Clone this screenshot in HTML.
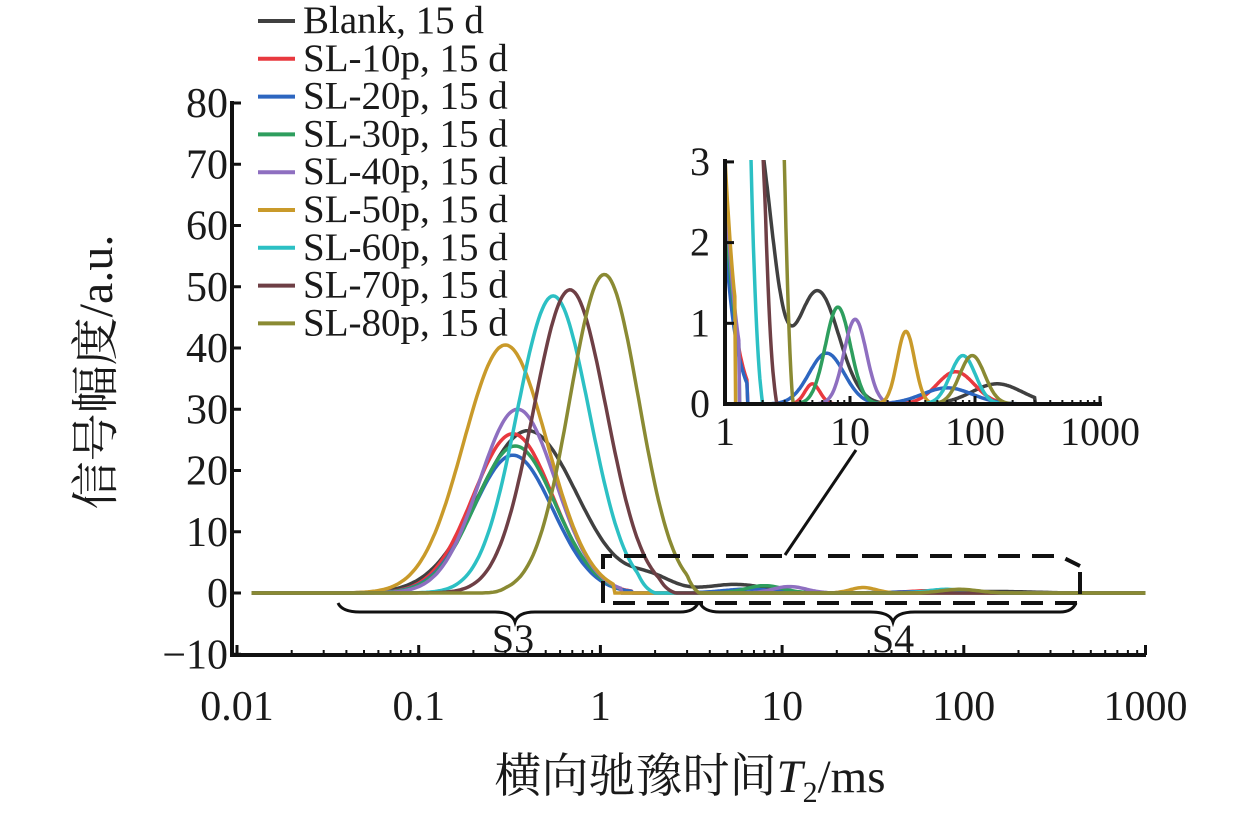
<!DOCTYPE html>
<html><head><meta charset="utf-8"><style>
html,body{margin:0;padding:0;background:#fff}
svg{display:block}
text{font-family:"Liberation Serif","Noto Serif CJK SC",serif;fill:#1a1a1a}
</style></head><body>
<svg id="s" width="1259" height="817" viewBox="0 0 1259 817" xmlns="http://www.w3.org/2000/svg">
<defs><clipPath id="ic"><rect x="724" y="160" width="400" height="250"/></clipPath></defs>
<g id="main"></g>
<g id="ins" clip-path="url(#ic)"></g>
<g stroke="#111" stroke-width="4" fill="none">
<line x1="232" y1="101" x2="232" y2="657"/>
<line x1="230" y1="655" x2="1146" y2="655"/>
<line x1="725" y1="159" x2="725" y2="406"/>
<line x1="723" y1="404" x2="1102" y2="404"/>
</g>
<g stroke="#111" stroke-width="4" fill="none" stroke-dasharray="22,12">
<path d="M603,603 V556 H1060 L1080,566"/>
<path d="M1080,572 V603 H603"/>
</g>
<line x1="785" y1="555" x2="856" y2="450" stroke="#111" stroke-width="3"/>
<g stroke="#111" stroke-width="3" fill="none">
<path d="M338,603 Q342,612 360,612 H495 Q512,612 515,622 Q518,612 535,612 H680 Q694,612 698,603"/>
<path d="M700,603 Q704,612 720,612 H870 Q890,612 893,622 Q896,612 915,612 H1060 Q1072,612 1076,603"/>
</g>
<text x="513" y="652" font-size="40" text-anchor="middle">S3</text>
<text x="893" y="652" font-size="40" text-anchor="middle">S4</text>
<g id="ax"></g>
<g id="leg"></g>
<text x="690" y="792" font-size="47" text-anchor="middle">横向驰豫时间<tspan font-style="italic">T</tspan><tspan font-size="30" dy="10">2</tspan><tspan dy="-10">/ms</tspan></text>
<text transform="translate(112,372) rotate(-90)" font-size="48" text-anchor="middle">信号幅度/a.u.</text>
</svg>
<script>
var NS="http://www.w3.org/2000/svg";
function el(p,n,a,t){var e=document.createElementNS(NS,n);for(var k in a)e.setAttribute(k,a[k]);if(t!=null)e.textContent=t;document.getElementById(p).appendChild(e);return e;}
var L=Math.log10;
function g(t,p,A,s){var d=L(t)-L(p);return A*Math.exp(-d*d/(2*s*s));}
var S=[
["Blank, 15 d","#404040",function(t){return g(t,0.4,26.5,0.27)+g(t,1.9,2.2,0.12)+g(t,5.5,1.4,0.17)+g(t,150,0.25,0.2);}],
["SL-10p, 15 d","#e8393f",function(t){return t<1.5?g(t,0.33,26,0.22):(g(t,5,0.25,0.06)+g(t,70,0.4,0.15));}],
["SL-20p, 15 d","#2d66c0",function(t){return t<1.5?g(t,0.33,22.5,0.22):(g(t,6.5,0.63,0.14)+g(t,60,0.2,0.2));}],
["SL-30p, 15 d","#2e9e5e",function(t){return t<1.3?g(t,0.34,24,0.22):g(t,8,1.2,0.1);}],
["SL-40p, 15 d","#8e6fc0",function(t){return t<1.3?g(t,0.35,30,0.21):g(t,11,1.05,0.09);}],
["SL-50p, 15 d","#c99a2a",function(t){return t<1.2?g(t,0.3,40.5,0.23):g(t,28,0.9,0.07);}],
["SL-60p, 15 d","#2cc0c4",function(t){return t<2?g(t,0.55,48.5,0.2)*(t>1.6?Math.max(0,(2-t)/0.4):1):g(t,80,0.6,0.1);}],
["SL-70p, 15 d","#6e3f45",function(t){return t<2.6?g(t,0.68,49.5,0.2)*(t>2.1?Math.max(0,(2.6-t)/0.5):1):0;}],
["SL-80p, 15 d","#8a8a33",function(t){return (t<0.22?0:t<3.5?g(t,1.05,52,0.19)*(t>3?Math.max(0,(3.5-t)/0.5):1)*(t<0.3?(t-0.22)/0.08:1):0)+g(t,95,0.6,0.1);}]
];
function MX(t){return 600.4+181.7*L(t);}
function MY(v){return 593-6.125*v;}
function IX(t){return 725+125*L(t);}
function IY(v){return 404-80.7*v;}
S.forEach(function(s){
 var d="",di="";
 for(var i=0;i<=500;i++){var lt=-2+i*5/500,t=Math.pow(10,lt);if(t<0.012)continue;var v=s[2](t);
  d+=(d?"L":"M")+MX(t).toFixed(1)+","+MY(v).toFixed(1);}
 el("main","path",{d:d,stroke:s[1],"stroke-width":3.5,fill:"none"});
 for(var i=0;i<=400;i++){var lt=i*2.6/400,t=Math.pow(10,lt);var v=Math.min(4,s[2](t));
  if(s[0].indexOf("Blank")==0&&t>300)v=0;
  di+=(di?"L":"M")+IX(t).toFixed(1)+","+IY(v).toFixed(1);}
 el("ins","path",{d:di,stroke:s[1],"stroke-width":3.5,fill:"none"});
});
for(var v=-10;v<=80;v+=10){el("ax","line",{x1:232,x2:241,y1:MY(v),y2:MY(v),stroke:"#111","stroke-width":3});
 el("ax","text",{x:228,y:MY(v)+14,"font-size":42,"text-anchor":"end"},v<0?"\u221210":String(v));}
var labs=["0.01","0.1","1","10","100","1000"];
for(var e=-2;e<=3;e++){var x=MX(Math.pow(10,e));el("ax","text",{x:x,y:720,"font-size":42,"text-anchor":"middle"},labs[e+2]);
 el("ax","line",{x1:x,x2:x,y1:655,y2:645,stroke:"#111","stroke-width":3});
 if(e<3)for(var k=2;k<10;k++){var xx=MX(k*Math.pow(10,e));el("ax","line",{x1:xx,x2:xx,y1:655,y2:650,stroke:"#111","stroke-width":2});}}
for(var v=0;v<=3;v++){el("ax","line",{x1:725,x2:734,y1:IY(v),y2:IY(v),stroke:"#111","stroke-width":3});
 el("ax","text",{x:710,y:IY(v)+13,"font-size":40,"text-anchor":"end"},String(v));}
var il=["1","10","100","1000"];
for(var e=0;e<=3;e++){var x=IX(Math.pow(10,e));el("ax","text",{x:x,y:445,"font-size":40,"text-anchor":"middle"},il[e]);
 el("ax","line",{x1:x,x2:x,y1:404,y2:396,stroke:"#111","stroke-width":3});
 if(e<3)for(var k=2;k<10;k++){var xx=IX(k*Math.pow(10,e));el("ax","line",{x1:xx,x2:xx,y1:404,y2:400,stroke:"#111","stroke-width":2});}}
S.forEach(function(s,i){var y=21+i*37.8;
 el("leg","line",{x1:258,x2:295,y1:y,y2:y,stroke:s[1],"stroke-width":4});
 el("leg","text",{x:303,y:y+12,"font-size":39},s[0]);});
</script>
</body></html>
